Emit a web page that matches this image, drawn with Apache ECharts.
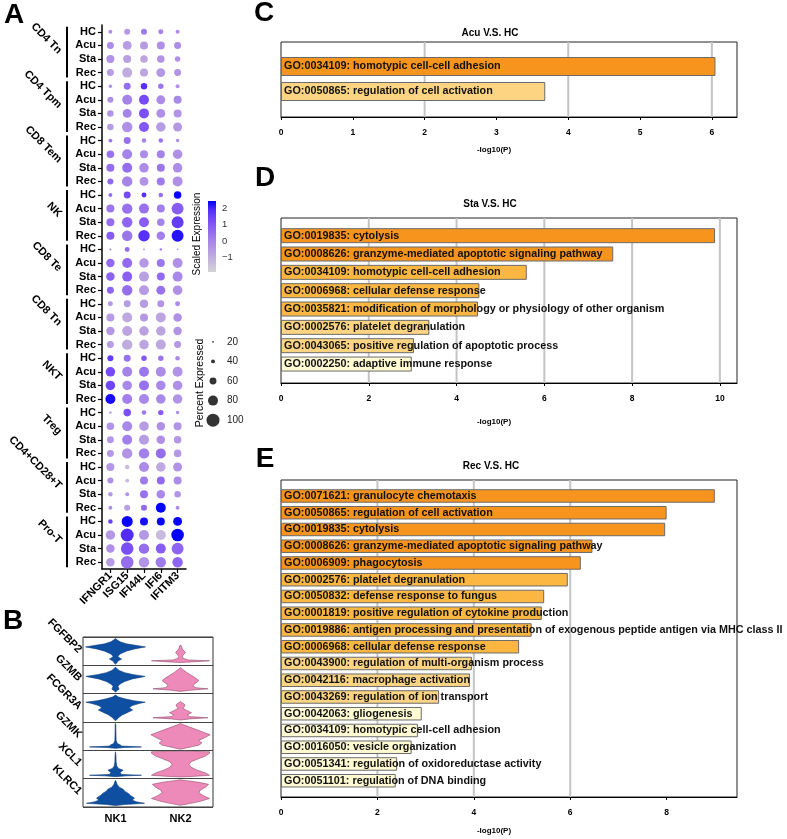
<!DOCTYPE html>
<html><head><meta charset="utf-8">
<script src="https://cdn.jsdelivr.net/npm/echarts@6/dist/echarts.min.js"></script>
<style>html,body{margin:0;padding:0;background:#fff}#c{width:787px;height:839px}</style>
</head><body><div id="c"></div>
<script>
const FONT = '"Liberation Sans", Arial, Helvetica, sans-serif';

// ---------- Panel A: dot plot ----------
const genes = ['IFNGR1', 'ISG15', 'IFI44L', 'IFI6', 'IFITM3'];
const groups = ['CD4 Tn', 'CD4 Tpm', 'CD8 Tem', 'NK', 'CD8 Te', 'CD8 Tn', 'NKT', 'Treg', 'CD4+CD28+T', 'Pro-T'];
const conds = ['HC', 'Acu', 'Sta', 'Rec'];
// percent expressed, one row per group x condition, columns = genes
const pctExpressed = [
  [40,54,54,47,40],[60,73,67,67,60],[67,67,64,64,50],[60,80,67,73,60],
  [37,60,57,50,40],[54,80,80,73,67],[57,73,80,73,67],[57,83,80,77,73],
  [40,60,44,44,37],[64,80,67,67,77],[67,80,77,67,77],[54,83,73,67,80],
  [40,60,47,44,64],[67,83,80,67,93],[67,83,80,64,93],[67,83,90,70,93],
  [27,47,24,30,24],[70,80,77,67,80],[70,80,80,67,80],[60,83,80,73,77],
  [47,60,70,60,47],[67,80,67,80,70],[70,80,77,77,70],[60,83,77,80,60],
  [54,60,50,50,44],[77,80,80,80,80],[77,77,80,77,77],[80,80,80,77,77],
  [30,64,44,50,37],[64,80,77,70,67],[60,80,80,70,64],[60,83,83,80,64],
  [67,44,80,77,73],[54,40,67,67,67],[44,40,67,70,57],[40,54,54,80,40],
  [44,87,67,67,73],[77,100,80,80,97],[70,97,83,80,93],[70,97,83,83,83]
];
// scaled average expression
const scaledExpression = [
  [-0.3,-0.5,0.2,0,-0.2],[-0.2,-0.6,-0.6,-0.3,-0.2],[-0.4,-0.7,-0.8,-0.4,-0.3],[-0.6,-1.0,-0.8,-0.5,-0.4],
  [-0.3,0.5,1.8,0.3,-0.3],[-0.3,0,1.3,-0.2,-0.1],[-0.4,0,1.2,-0.3,-0.4],[-0.6,-0.3,1.0,-0.6,-0.5],
  [0.2,0.4,0,0.3,-0.2],[0.4,0,-0.2,0,-0.3],[0.5,0.5,-0.2,0.3,-0.2],[0.6,0,-0.4,0.2,-0.3],
  [0.5,1.3,1.8,0.5,2.4],[0.3,0.4,0.4,0.1,0.9],[0.5,0.7,0.9,0,1.6],[0.9,0.3,1.8,0.1,2.2],
  [0.1,0.5,-0.3,0.2,-0.6],[0.6,0.6,-0.5,0.3,-0.3],[0.8,0.8,-0.7,0.6,-0.1],[0.7,0.5,-0.6,0.4,-0.3],
  [-0.5,-0.6,-0.6,-0.4,-0.2],[-0.6,-0.9,-0.5,-0.8,-0.3],[-0.5,-0.8,-0.7,-0.8,-0.4],[-0.6,-1.0,-0.8,-0.9,-0.5],
  [1.6,0.4,1.0,0.3,-0.1],[1.3,0,0.3,-0.2,-0.4],[1.4,-0.1,0.4,-0.1,-0.3],[2.3,0.1,-0.1,-0.1,-0.4],
  [-0.3,1.2,0.3,0.9,-0.3],[-0.4,-0.1,-0.6,-0.3,-0.4],[-0.5,0.1,-0.6,-0.3,-0.5],[-0.5,-0.4,0.1,0.5,-0.5],
  [-0.5,-1.3,-0.2,-0.9,-0.4],[-0.3,-1.3,0.2,0.6,-0.2],[-0.5,-0.4,0.4,-0.1,-0.4],[-0.3,-0.7,0.6,2.5,-0.2],
  [1.5,2.4,2.3,2.4,2.4],[-0.5,1.9,-0.5,-1.3,2.5],[-0.3,1.2,0.5,0.9,0.7],[-0.6,0.5,-0.4,0.2,0.7]
];
const expRange = [-1.9, 2.45];
const expTicks = [-1, 0, 1, 2];
const sizeLegend = [20, 40, 60, 80, 100];

// ---------- Panel B: stacked violins ([height fraction, half-width fraction]) ----------
const violinGenes = ['FGFBP2', 'GZMB', 'FCGR3A', 'GZMK', 'XCL1', 'KLRC1'];
const clusters = ['NK1', 'NK2'];
const violinNK1 = [
  [[0.04,0],[0.08,0.04],[0.15,0.08],[0.22,0.2],[0.27,0.12],[0.32,0.08],[0.4,0.15],[0.5,0.35],[0.58,0.62],[0.65,0.98],[0.7,0.7],[0.76,0.35],[0.83,0.15],[0.9,0.05],[0.95,0]],
  [[0.05,0],[0.1,0.04],[0.16,0.12],[0.2,0.1],[0.26,0.08],[0.34,0.15],[0.43,0.3],[0.52,0.55],[0.61,0.97],[0.67,0.6],[0.74,0.3],[0.82,0.12],[0.89,0.04],[0.94,0]],
  [[0.04,0],[0.1,0.05],[0.17,0.12],[0.25,0.22],[0.33,0.38],[0.42,0.56],[0.5,0.45],[0.58,0.55],[0.66,0.8],[0.7,0.97],[0.75,0.6],[0.82,0.3],[0.88,0.1],[0.95,0]],
  [[0.07,0],[0.1,0.3],[0.12,0.85],[0.15,0.2],[0.19,0.16],[0.24,0.06],[0.35,0.02],[0.6,0.015],[0.9,0.01],[0.95,0]],
  [[0.07,0],[0.1,0.35],[0.12,0.85],[0.15,0.2],[0.22,0.15],[0.3,0.25],[0.36,0.1],[0.45,0.04],[0.6,0.02],[0.8,0.015],[0.95,0]],
  [[0.05,0],[0.09,0.3],[0.13,0.95],[0.18,0.7],[0.24,0.55],[0.32,0.62],[0.4,0.5],[0.48,0.42],[0.56,0.3],[0.63,0.25],[0.7,0.12],[0.8,0.05],[0.9,0.02],[0.94,0]]
];
const violinNK2 = [
  [[0.1,0],[0.13,0.5],[0.16,0.95],[0.19,0.25],[0.25,0.08],[0.32,0.06],[0.4,0.12],[0.46,0.16],[0.52,0.1],[0.6,0.05],[0.68,0.03],[0.72,0]],
  [[0.08,0],[0.12,0.3],[0.17,0.9],[0.21,0.5],[0.28,0.4],[0.36,0.48],[0.46,0.6],[0.55,0.5],[0.65,0.35],[0.75,0.2],[0.85,0.08],[0.92,0]],
  [[0.07,0],[0.11,0.3],[0.15,0.9],[0.19,0.3],[0.25,0.22],[0.33,0.36],[0.41,0.2],[0.49,0.07],[0.56,0.14],[0.62,0.14],[0.68,0.05],[0.73,0]],
  [[0.04,0],[0.1,0.25],[0.18,0.6],[0.26,0.7],[0.35,0.6],[0.45,0.8],[0.55,0.97],[0.64,0.75],[0.74,0.5],[0.82,0.3],[0.9,0.1],[0.95,0]],
  [[0.06,0],[0.08,0.4],[0.12,0.95],[0.2,0.82],[0.3,0.55],[0.4,0.35],[0.5,0.28],[0.6,0.35],[0.7,0.58],[0.8,0.82],[0.9,0.95],[0.95,0.95],[0.97,0]],
  [[0.06,0],[0.12,0.3],[0.2,0.65],[0.3,0.95],[0.4,0.75],[0.5,0.6],[0.6,0.65],[0.7,0.82],[0.8,0.92],[0.87,0.6],[0.93,0.2],[0.96,0]]
];

// ---------- Panels C, D, E: enrichment bars (-log10 P) ----------
const termsC = ['GO:0034109: homotypic cell-cell adhesion', 'GO:0050865: regulation of cell activation'];
const valuesC = [6.05, 3.68];
const termsD = ['GO:0019835: cytolysis', 'GO:0008626: granzyme-mediated apoptotic signaling pathway',
  'GO:0034109: homotypic cell-cell adhesion', 'GO:0006968: cellular defense response',
  'GO:0035821: modification of morphology or physiology of other organism', 'GO:0002576: platelet degranulation',
  'GO:0043065: positive regulation of apoptotic process', 'GO:0002250: adaptive immune response'];
const valuesD = [9.89, 7.57, 5.6, 4.52, 4.49, 3.38, 3.03, 2.98];
const termsE = ['GO:0071621: granulocyte chemotaxis', 'GO:0050865: regulation of cell activation', 'GO:0019835: cytolysis',
  'GO:0008626: granzyme-mediated apoptotic signaling pathway', 'GO:0006909: phagocytosis', 'GO:0002576: platelet degranulation',
  'GO:0050832: defense response to fungus', 'GO:0001819: positive regulation of cytokine production',
  'GO:0019886: antigen processing and presentation of exogenous peptide antigen via MHC class II',
  'GO:0006968: cellular defense response', 'GO:0043900: regulation of multi-organism process', 'GO:0042116: macrophage activation',
  'GO:0043269: regulation of ion transport', 'GO:0042063: gliogenesis', 'GO:0034109: homotypic cell-cell adhesion',
  'GO:0016050: vesicle organization', 'GO:0051341: regulation of oxidoreductase activity', 'GO:0051101: regulation of DNA binding'];
const valuesE = [9.0, 8.0, 7.97, 6.46, 6.22, 5.95, 5.46, 5.41, 5.2, 4.94, 3.96, 3.92, 3.28, 2.92, 2.84, 2.71, 2.41, 2.38];
const gridlinesC = [2, 4, 6];
const gridlinesD = [2, 4, 6, 8, 10];
const gridlinesE = [2, 4, 6];

// ---------- styles ----------
const expColors = ['#d3d3d3','#c9bcdb','#bba5e0','#ae8fe6','#9c78ec','#8a60f1','#7348f6','#522cfa','#0000ff'];
function dotSize(p) { return Math.max(1.8, 13 * (p - 14) / 86); }
function barColor(v) {
  if (v >= 6) return '#f7941e';
  if (v >= 4) return '#fbb741';
  if (v >= 3) return '#fdd582';
  return '#fffad2';
}

const rowKeys = [];
groups.forEach(g => conds.forEach(c => rowKeys.push(g + '|' + c)));
const dotData = [];
pctExpressed.forEach((row, r) => row.forEach((p, gi) => dotData.push([gi, r, p, scaledExpression[r][gi]])));
const bracketData = groups.map((g, i) => [0, i * 4, i * 4 + 3]);

const BL = 281, BW = 456;
const frameXAxis = (gi, max, interval) => ({
  type: 'value', gridIndex: gi, min: 0, max: max, interval: interval,
  axisLine: { show: true, lineStyle: { color: '#000', width: 1 } },
  axisTick: { show: true, length: 3, lineStyle: { color: '#000' } },
  axisLabel: { fontSize: 8.5, fontWeight: 'bold', color: '#000', margin: 11, showMaxLabel: false, fontFamily: FONT },
  splitLine: { show: false }
});
const hiddenX = (gi, max) => ({ type: 'value', gridIndex: gi, min: 0, max: max, show: false });
const gridlineSeries = (xi, yi, lines) => ({
  type: 'custom', xAxisIndex: xi, yAxisIndex: yi, z: 1, silent: true,
  data: lines.map(v => [v, 0]),
  renderItem: (params, api) => {
    const x = api.coord([api.value(0), 0])[0];
    const cs = params.coordSys;
    return { type: 'line', shape: { x1: x, y1: cs.y, x2: x, y2: cs.y + cs.height }, style: { stroke: '#c4c4c4', lineWidth: 2 } };
  }
});
const barSeries = (xi, yi, values, bw) => ({
  type: 'bar', xAxisIndex: xi, yAxisIndex: yi, data: values, barWidth: bw, z: 3, silent: true,
  itemStyle: { color: p => barColor(p.value), borderColor: '#6b6b6b', borderWidth: 1 },
  label: { show: true, position: 'insideLeft', distance: 3, formatter: '{b}', color: '#111', fontSize: 10.8,
    fontWeight: 'bold', fontFamily: FONT, textBorderWidth: 0 }
});

const chart = echarts.init(document.getElementById('c'), null, { renderer: 'canvas' });
const txt = (text, x, y, font, extra) => Object.assign({
  type: 'text', x: x, y: y, silent: true,
  style: { text: text, font: font, fill: '#000', textAlign: 'center', textVerticalAlign: 'middle' }
}, extra || {});

chart.setOption({
  animation: false,
  textStyle: { fontFamily: FONT },
  grid: [
    { left: 102, top: 25, width: 84, height: 544 },
    { left: 208, top: 200.2, width: 8, height: 73.4 },
    { left: 207, top: 332, width: 12, height: 98 },
    { left: 83, top: 637, width: 130, height: 170, show: true, borderColor: '#333', borderWidth: 1 },
    { left: BL, width: BW, top: 42, height: 75, show: true, borderColor: '#222', borderWidth: 1 },
    { left: BL, width: BW, top: 54, height: 50 },
    { left: BL, width: BW, top: 218, height: 165, show: true, borderColor: '#222', borderWidth: 1 },
    { left: BL, width: BW, top: 226.5, height: 146.7 },
    { left: BL, width: BW, top: 480, height: 317, show: true, borderColor: '#222', borderWidth: 1 },
    { left: BL, width: BW, top: 487.6, height: 301.5 }
  ],
  visualMap: [{
    type: 'continuous', show: false, seriesIndex: 0, dimension: 3,
    min: expRange[0], max: expRange[1], inRange: { color: expColors }
  }],
  xAxis: [
    { type: 'category', gridIndex: 0, data: genes, position: 'bottom',
      axisLine: { show: true, lineStyle: { color: '#000', width: 1.5 } },
      axisTick: { show: true, alignWithLabel: true, length: 4, interval: 0, lineStyle: { color: '#000', width: 1.2 } },
      axisLabel: { rotate: 45, interval: 0, fontSize: 11, fontWeight: 'bold', color: '#000', margin: 5, fontFamily: FONT },
      splitLine: { show: false } },
    { type: 'value', gridIndex: 1, min: 0, max: 1, show: false },
    { type: 'value', gridIndex: 2, min: -1, max: 1, show: false },
    { type: 'category', gridIndex: 3, data: clusters,
      axisLine: { show: false }, axisTick: { show: false },
      axisLabel: { fontSize: 11, fontWeight: 'bold', color: '#000', margin: 6, fontFamily: FONT } },
    frameXAxis(4, 6.35, 1), hiddenX(5, 6.35),
    frameXAxis(6, 10.39, 2), hiddenX(7, 10.39),
    frameXAxis(8, 9.46, 2), hiddenX(9, 9.46)
  ],
  yAxis: [
    { type: 'category', gridIndex: 0, data: rowKeys, inverse: true, position: 'left',
      axisLine: { show: true, lineStyle: { color: '#000', width: 1.5 } },
      axisTick: { show: true, alignWithLabel: true, length: 4, interval: 0, lineStyle: { color: '#000', width: 1.2 } },
      axisLabel: { interval: 0, formatter: v => v.split('|')[1], fontSize: 11, fontWeight: 'bold', color: '#000', margin: 6, fontFamily: FONT },
      splitLine: { show: false } },
    { type: 'category', gridIndex: 0, data: groups, inverse: true, position: 'left', offset: 35,
      axisLine: { show: false }, axisTick: { show: false },
      axisLabel: { interval: 0, rotate: -45, fontSize: 11, fontWeight: 'bold', color: '#000', margin: 7, fontFamily: FONT } },
    { type: 'value', gridIndex: 1, min: -2, max: 2.5, interval: 1, position: 'right',
      axisLine: { show: false },
      axisTick: { show: true, inside: true, length: 2, lineStyle: { color: '#fff', width: 1 } },
      axisLabel: { margin: 6, fontSize: 9.5, color: '#333', fontFamily: FONT,
        formatter: v => expTicks.indexOf(v) < 0 ? '' : (v < 0 ? '\u2212' + (-v) : String(v)) },
      splitLine: { show: false } },
    { type: 'category', gridIndex: 2, data: sizeLegend.map(String), inverse: true, position: 'right',
      axisLine: { show: false }, axisTick: { show: false },
      axisLabel: { margin: 8, fontSize: 10, color: '#222', fontFamily: FONT } },
    { type: 'value', gridIndex: 3, min: 0, max: 6, interval: 1, inverse: true, position: 'left',
      axisLine: { show: false }, axisTick: { show: false }, axisLabel: { show: false },
      splitLine: { show: true, lineStyle: { color: '#444', width: 1 } } },
    { type: 'category', gridIndex: 3, data: violinGenes, inverse: true, position: 'left',
      axisLine: { show: false }, axisTick: { show: false },
      axisLabel: { interval: 0, rotate: -45, fontSize: 11, fontWeight: 'bold', color: '#000', margin: 3, fontFamily: FONT } },
    { type: 'value', gridIndex: 4, min: 0, max: 1, show: false },
    { type: 'category', gridIndex: 5, data: termsC, inverse: true, show: false },
    { type: 'value', gridIndex: 6, min: 0, max: 1, show: false },
    { type: 'category', gridIndex: 7, data: termsD, inverse: true, show: false },
    { type: 'value', gridIndex: 8, min: 0, max: 1, show: false },
    { type: 'category', gridIndex: 9, data: termsE, inverse: true, show: false }
  ],
  series: [
    { type: 'scatter', xAxisIndex: 0, yAxisIndex: 0, data: dotData, silent: true,
      symbolSize: v => dotSize(v[2]), itemStyle: { opacity: 1 } },
    { type: 'custom', xAxisIndex: 0, yAxisIndex: 0, data: bracketData, silent: true,
      encode: { x: 0, y: [1, 2] },
      renderItem: (params, api) => {
        const y1 = api.coord([0, api.value(1)])[1] - 5;
        const y2 = api.coord([0, api.value(2)])[1] + 5;
        const x = params.coordSys.x - 35;
        return { type: 'line', shape: { x1: x, y1: y1, x2: x, y2: y2 }, style: { stroke: '#000', lineWidth: 2 } };
      } },
    { type: 'custom', xAxisIndex: 1, yAxisIndex: 2, data: [[0, expRange[0], expRange[1]]], silent: true,
      encode: { x: 0, y: [1, 2] }, z: 1,
      renderItem: (params, api) => {
        const top = api.coord([0, api.value(2)])[1];
        const bot = api.coord([0, api.value(1)])[1];
        const cs = params.coordSys;
        const stops = expColors.slice().reverse().map((c, i, a) => ({ offset: i / (a.length - 1), color: c }));
        return { type: 'rect', shape: { x: cs.x, y: top, width: cs.width, height: bot - top },
          style: { fill: new echarts.graphic.LinearGradient(0, 0, 0, 1, stops) } };
      } },
    { type: 'scatter', xAxisIndex: 2, yAxisIndex: 3, silent: true,
      data: sizeLegend.map((v, i) => [0, i, v]),
      symbolSize: v => dotSize(v[2]), itemStyle: { color: '#000' } },
    { type: 'custom', xAxisIndex: 3, yAxisIndex: 4, silent: true,
      data: violinGenes.flatMap((g, ri) => clusters.map((c, ci) => [ci, ri])),
      renderItem: (params, api) => {
        const ci = api.value(0), ri = api.value(1);
        const shape = (ci === 0 ? violinNK1 : violinNK2)[ri];
        const cx = api.coord([ci, ri])[0];
        const half = api.size([1, 0])[0] * 0.47;
        const right = [], left = [];
        shape.forEach(([t, w]) => {
          const y = api.coord([ci, ri + 1 - t])[1];
          right.push([cx + w * half, y]);
          left.unshift([cx - w * half, y]);
        });
        return { type: 'polygon', shape: { points: right.concat(left) },
          style: { fill: ci === 0 ? '#0e4fa2' : '#ee8ab9', stroke: ci === 0 ? '#0a3a7a' : '#8f4d6b', lineWidth: 0.6 } };
      } },
    gridlineSeries(4, 6, gridlinesC), barSeries(5, 7, valuesC, 19),
    gridlineSeries(6, 8, gridlinesD), barSeries(7, 9, valuesD, 15),
    gridlineSeries(8, 10, gridlinesE), barSeries(9, 11, valuesE, 13.5)
  ],
  graphic: [
    txt('A', 14, 15, 'bold 28px ' + FONT),
    txt('B', 13, 621, 'bold 28px ' + FONT),
    txt('C', 264, 13, 'bold 28px ' + FONT),
    txt('D', 265, 178, 'bold 28px ' + FONT),
    txt('E', 265, 459, 'bold 28px ' + FONT),
    txt('Acu V.S. HC', 490, 33, 'bold 10px ' + FONT),
    txt('Sta V.S. HC', 490, 204, 'bold 10px ' + FONT),
    txt('Rec V.S. HC', 491, 466, 'bold 10px ' + FONT),
    txt('-log10(P)', 494, 150, 'bold 8px ' + FONT),
    txt('-log10(P)', 494, 422, 'bold 8px ' + FONT),
    txt('-log10(P)', 494, 831, 'bold 8px ' + FONT),
    txt('Scaled Expression', 197, 234, '10px ' + FONT, { rotation: Math.PI / 2 }),
    txt('Percent Expressed', 200, 383, '10.5px ' + FONT, { rotation: Math.PI / 2 })
  ]
});
</script></body></html>
